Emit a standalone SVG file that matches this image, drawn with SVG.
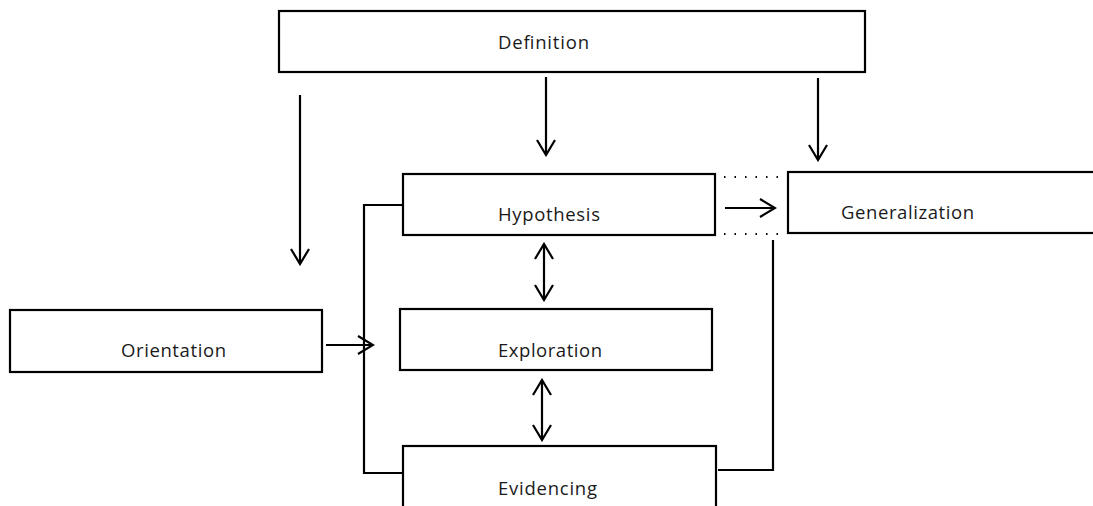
<svg xmlns="http://www.w3.org/2000/svg" width="1093" height="506" viewBox="0 0 1093 506">
<style>
.box{fill:#fff;stroke:#000;stroke-width:2.2}
.lbl{font-family:"Open Sans","Liberation Sans",sans-serif;font-size:18.5px;fill:#1a1a1a}
.ln{fill:none;stroke:#000;stroke-width:2.2}
.dot{fill:none;stroke:#000;stroke-width:2;stroke-dasharray:1.5 9}
</style>
<defs>
<marker id="ah" viewBox="0 0 22 22" refX="20" refY="11" markerWidth="22" markerHeight="22" markerUnits="userSpaceOnUse" orient="auto-start-reverse">
<path d="M5,2 L20,11 L5,20" fill="none" stroke="#000" stroke-width="2.2"/>
</marker>
</defs>
<rect width="1093" height="506" fill="#fff"/>
<g id="connectors">
<line class="ln" x1="300" y1="95" x2="300" y2="264" marker-end="url(#ah)"/>
<line class="ln" x1="546" y1="77" x2="546" y2="155" marker-end="url(#ah)"/>
<line class="ln" x1="818" y1="78" x2="818" y2="160" marker-end="url(#ah)"/>
<line class="ln" x1="725" y1="208" x2="775" y2="208" marker-end="url(#ah)"/>
<line class="dot" x1="724" y1="177" x2="785" y2="177"/>
<line class="dot" x1="724" y1="234" x2="785" y2="234"/>
<line class="ln" x1="544" y1="244" x2="544" y2="300" marker-start="url(#ah)" marker-end="url(#ah)"/>
<line class="ln" x1="542" y1="380" x2="542" y2="440" marker-start="url(#ah)" marker-end="url(#ah)"/>
<line class="ln" x1="326" y1="345" x2="373" y2="345" marker-end="url(#ah)"/>
<polyline class="ln" points="403,205 364,205 364,473 403,473"/>
<polyline class="ln" points="718,470 773,470 773,240"/>
</g>
<g id="definition"><rect class="box" x="279" y="11" width="586" height="61"/><text class="lbl" x="498" y="49" textLength="91">Definition</text></g>
<g id="hypothesis"><rect class="box" x="403" y="174" width="312" height="61"/><text class="lbl" x="498" y="221" textLength="102">Hypothesis</text></g>
<g id="generalization"><rect class="box" x="788" y="172" width="310" height="61"/><text class="lbl" x="841" y="219" textLength="133">Generalization</text></g>
<g id="orientation"><rect class="box" x="10" y="310" width="312" height="62"/><text class="lbl" x="121" y="357" textLength="105">Orientation</text></g>
<g id="exploration"><rect class="box" x="400" y="309" width="312" height="61"/><text class="lbl" x="498" y="357" textLength="104">Exploration</text></g>
<g id="evidencing"><rect class="box" x="403" y="446" width="313" height="64"/><text class="lbl" x="498" y="495" textLength="99">Evidencing</text></g>
</svg>
